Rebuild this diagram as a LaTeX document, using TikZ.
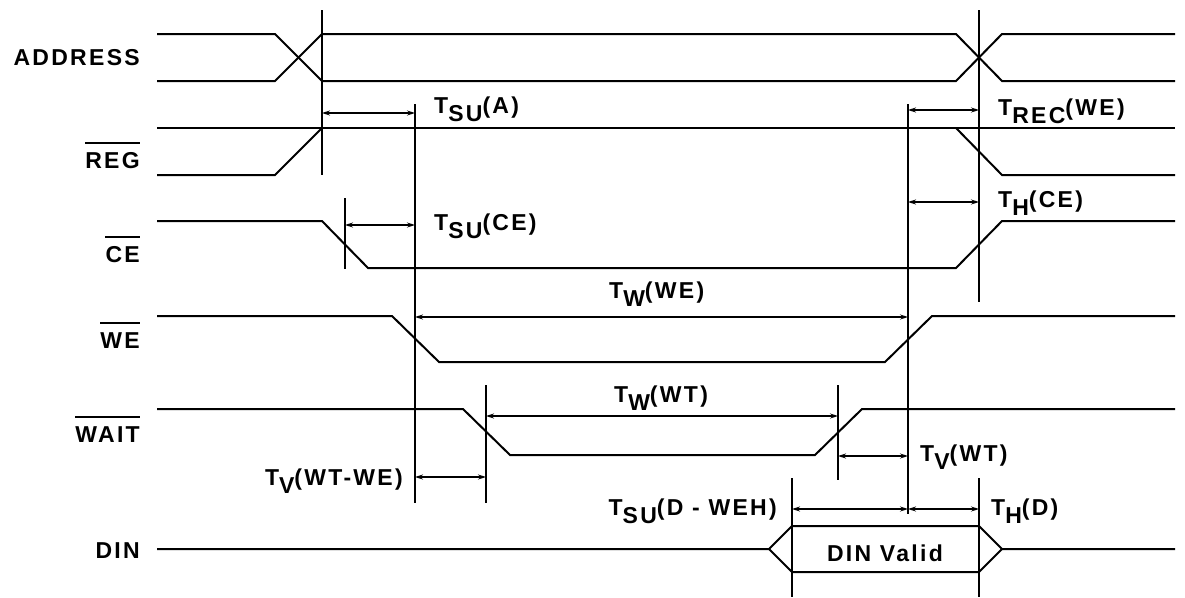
\documentclass[tikz,border=0pt]{standalone}
\usepackage{fontspec}
\setmainfont{Liberation Sans}[LetterSpace=10]
\usetikzlibrary{arrows.meta}
\newcommand{\tmlabel}[2]{T\raisebox{-8pt}{#1}(#2)}
\begin{document}
\begin{tikzpicture}[x=1pt,y=-1pt,
  sig/.style={line width=2pt,line join=miter},
  vline/.style={line width=2pt},
  dim/.style={line width=1.1pt,{Stealth[length=8pt,width=5pt]}-{Stealth[length=8pt,width=5pt]}},
  txt/.style={inner sep=0pt,font=\fontsize{23}{27}\selectfont\bfseries},
  ovl/.style={line width=2pt}]
\useasboundingbox (0,0) rectangle (1185,597);
% ---- signal labels
\node[txt,anchor=base east] (lAddr) at (140,65) {ADDRESS};
\node[txt,anchor=base east] (lReg) at (140,168) {REG};
\node[txt,anchor=base east] (lCe) at (140,262) {CE};
\node[txt,anchor=base east] (lWe) at (140,348) {WE};
\node[txt,anchor=base east] (lWait) at (140,442) {WAIT};
\node[txt,anchor=base east] (lDin) at (140,558) {DIN};
\foreach \n in {lReg,lCe,lWe,lWait}{
  \draw[ovl] ([yshift=9pt]\n.north west) -- ([yshift=9pt]\n.north east);
}
% ---- waveforms
\draw[sig] (157,34)--(275,34)--(322,81)--(956,81)--(1002,34)--(1175,34);
\draw[sig] (157,81)--(275,81)--(322,34)--(956,34)--(1002,81)--(1175,81);
\draw[sig] (157,128)--(1175,128);
\draw[sig] (157,175)--(275,175)--(322,128);
\draw[sig] (956,128)--(1002,175)--(1175,175);
\draw[sig] (157,221)--(322,221)--(368,268)--(956,268)--(1002,221)--(1175,221);
\draw[sig] (157,316)--(392,316)--(439,362)--(885,362)--(932,316)--(1175,316);
\draw[sig] (157,409)--(463,409)--(510,455)--(815,455)--(862,409)--(1175,409);
\draw[sig] (157,549)--(769,549)--(792,526)--(979,526)--(1002,549)--(1175,549);
\draw[sig] (769,549)--(792,572)--(979,572)--(1002,549);
% ---- marker lines
\coordinate (a1) at (322,10);   \coordinate (a2) at (322,175);
\coordinate (b1) at (979,10);   \coordinate (b2) at (979,302);
\coordinate (c1) at (415,104);  \coordinate (c2) at (415,503);
\coordinate (d1) at (908,104);  \coordinate (d2) at (908,514);
\coordinate (e1) at (345,198);  \coordinate (e2) at (345,269);
\coordinate (f1) at (486,385);  \coordinate (f2) at (486,503);
\coordinate (g1) at (838,385);  \coordinate (g2) at (838,480);
\coordinate (h1) at (792,478);  \coordinate (h2) at (792,597);
\coordinate (i1) at (979,478);  \coordinate (i2) at (979,597);
\foreach \p in {a,b,c,d,e,f,g,h,i}{\draw[vline] (\p1) -- (\p2);}
% ---- dimension arrows
\draw[dim] (322,113) -- (415,113);
\draw[dim] (345,225) -- (415,225);
\draw[dim] (908,110) -- (979,110);
\draw[dim] (908,202) -- (979,202);
\draw[dim] (415,317) -- (908,317);
\draw[dim] (486,416) -- (838,416);
\draw[dim] (838,456) -- (908,456);
\draw[dim] (415,477) -- (486,477);
\draw[dim] (792,509) -- (908,509);
\draw[dim] (908,509) -- (979,509);
% ---- timing labels
\node[txt,anchor=base west] (tA) at (434,113) {\tmlabel{SU}{A}};
\node[txt,anchor=base west] (tCE) at (434,230) {\tmlabel{SU}{CE}};
\node[txt,anchor=base west] (tREC) at (998,115) {\tmlabel{REC}{WE}};
\node[txt,anchor=base west] (tHCE) at (998,207) {\tmlabel{H}{CE}};
\node[txt,anchor=base west] (tWWE) at (609,298) {\tmlabel{W}{WE}};
\node[txt,anchor=base west] (tWWT) at (614,402) {\tmlabel{W}{WT}};
\node[txt,anchor=base west] (tVWT) at (920,461) {\tmlabel{V}{WT}};
\node[txt,anchor=base east] (tVWTWE) at (403,485) {\tmlabel{V}{WT-WE}};
\node[txt,anchor=base east] (tSUD) at (777,515) {\tmlabel{SU}{D - WEH}};
\node[txt,anchor=base west] (tHD) at (991,515) {\tmlabel{H}{D}};
\node[txt,anchor=base] (dv) at (885,561) {DIN Valid};
\end{tikzpicture}
\end{document}
